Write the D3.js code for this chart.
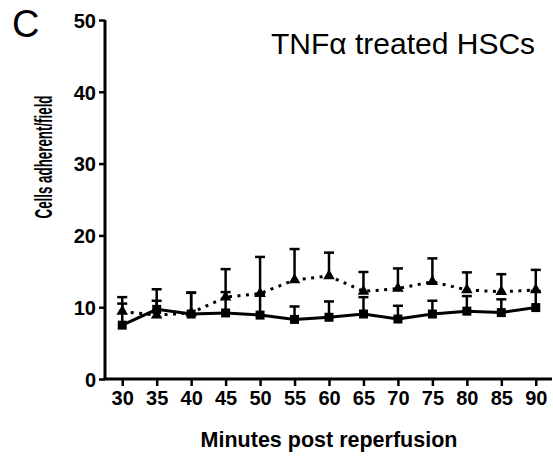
<!DOCTYPE html>
<html>
<head>
<meta charset="utf-8">
<script src="https://cdn.jsdelivr.net/npm/d3@7"></script>
<style>
  body { margin: 0; background: #fff; }
  svg { display: block; font-family: "Liberation Sans", Arial, sans-serif; }
</style>
</head>
<body>
<script>
const minutes = [30, 35, 40, 45, 50, 55, 60, 65, 70, 75, 80, 85, 90];
// squares, solid line
const controlMean = [7.5, 9.7, 9.05, 9.2, 8.9, 8.3, 8.6, 9.05, 8.35, 9.05, 9.45, 9.25, 9.95];
const controlSem = [3.0, 1.2, 3.0, 2.9, 2.9, 1.8, 2.2, 2.35, 1.85, 1.85, 2.1, 1.85, 2.3];
// triangles, dotted line
const tnfMean = [9.4, 8.9, 9.2, 11.4, 11.9, 13.8, 14.35, 12.2, 12.6, 13.55, 12.4, 12.15, 12.4];
const tnfSem = [2.0, 3.6, 2.8, 3.9, 5.1, 4.3, 3.25, 2.7, 2.8, 3.25, 2.45, 2.45, 2.8];
const yTicks = [0, 10, 20, 30, 40, 50];

const width = 553, height = 458;

const svg = d3.select("body").append("svg")
    .attr("width", width)
    .attr("height", height);

const x = d3.scaleLinear().domain([27.5, 92.5]).range([105, 553]);
const y = d3.scaleLinear().domain([0, 50]).range([379, 20]);

// Panel letter and title
svg.append("text")
    .attr("x", 12).attr("y", 37)
    .style("font-size", "38px")
    .text("C");

svg.append("text")
    .attr("x", 271).attr("y", 54)
    .style("font-size", "30px")
    .text("TNFα treated HSCs");

// Axes
const yAxis = svg.append("g")
    .attr("transform", "translate(105,0)")
    .call(d3.axisLeft(y).tickValues(yTicks).tickSize(6).tickPadding(3));
yAxis.select(".domain").attr("d", `M0,${y(50)}V${y(0)}`).attr("stroke-width", 3);
yAxis.selectAll(".tick line").attr("stroke-width", 2.5);
yAxis.selectAll(".tick text")
    .style("font-size", "20px").style("font-weight", "bold")
    .attr("fill", "#000").attr("dy", "0.36em");

const xAxis = svg.append("g")
    .attr("transform", "translate(0,379)")
    .call(d3.axisBottom(x).tickValues(minutes).tickSize(7).tickPadding(5));
xAxis.select(".domain").attr("d", `M103.5,0H552`).attr("stroke-width", 3);
xAxis.selectAll(".tick line").attr("stroke-width", 2.5);
xAxis.selectAll(".tick text")
    .style("font-size", "20px").style("font-weight", "bold")
    .attr("fill", "#000");

svg.append("text")
    .attr("x", 329).attr("y", 447)
    .attr("text-anchor", "middle")
    .style("font-size", "21.5px").style("font-weight", "bold")
    .text("Minutes post reperfusion");

svg.append("text")
    .attr("transform", "translate(51.5,157) rotate(-90)")
    .attr("text-anchor", "middle")
    .attr("textLength", 123).attr("lengthAdjust", "spacingAndGlyphs")
    .style("font-size", "23px").style("font-weight", "bold")
    .text("Cells adherent/field");

// Series
function drawSeries(means, sems, dotted, marker) {
    const g = svg.append("g");
    const pts = minutes.map((m, i) => ({m, v: means[i], e: sems[i]}));

    // upper error bars only
    g.selectAll("line.err").data(pts).join("line")
        .attr("x1", d => x(d.m)).attr("x2", d => x(d.m))
        .attr("y1", d => y(d.v)).attr("y2", d => y(d.v + d.e))
        .attr("stroke", "#000").attr("stroke-width", 2.5);
    g.selectAll("line.cap").data(pts).join("line")
        .attr("x1", d => x(d.m) - 5).attr("x2", d => x(d.m) + 5)
        .attr("y1", d => y(d.v + d.e)).attr("y2", d => y(d.v + d.e))
        .attr("stroke", "#000").attr("stroke-width", 2.5);

    const line = d3.line().x(d => x(d.m)).y(d => y(d.v));
    g.append("path")
        .datum(pts)
        .attr("d", line)
        .attr("fill", "none")
        .attr("stroke", "#000")
        .attr("stroke-width", 3)
        .attr("stroke-dasharray", dotted ? "3,5.5" : null);

    g.selectAll("path.mark").data(pts).join("path")
        .attr("transform", d => `translate(${x(d.m)},${y(d.v)})`)
        .attr("d", d3.symbol().type(marker).size(marker === d3.symbolSquare ? 81 : 58)())
        .attr("fill", "#000");
}

drawSeries(tnfMean, tnfSem, true, d3.symbolTriangle);
drawSeries(controlMean, controlSem, false, d3.symbolSquare);
</script>
</body>
</html>
